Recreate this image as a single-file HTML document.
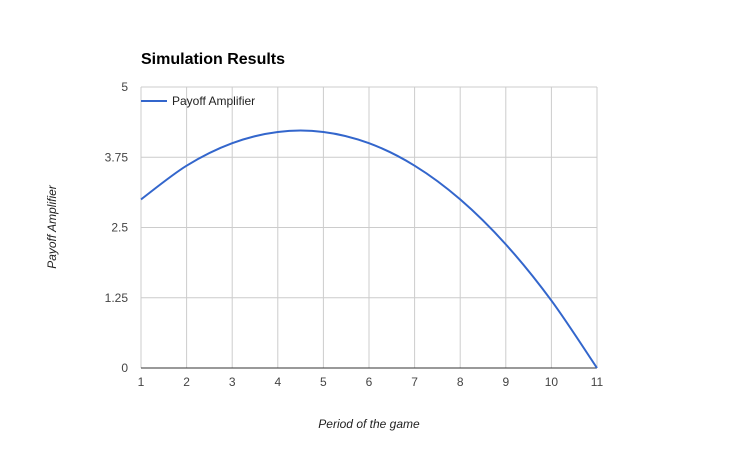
<!DOCTYPE html>
<html><head><meta charset="utf-8"><style>
body{margin:0;background:#fff}
svg{display:block;font-family:"Liberation Sans",Arial,sans-serif}
</style></head><body>
<svg id="chart" width="737" height="456">
<rect width="737" height="456" fill="#fff"/>
<text x="141" y="64" font-size="16" font-weight="bold" fill="#000">Simulation Results</text>
<g id="grid"></g>
<g id="ticks"></g>
<g>
<line x1="141" y1="101" x2="167" y2="101" stroke="#3366cc" stroke-width="2"/>
<text x="172" y="105" font-size="12" fill="#222">Payoff Amplifier</text>
</g>
<text x="369" y="428" font-size="12" font-style="italic" fill="#222" text-anchor="middle">Period of the game</text>
<text transform="translate(56,227) rotate(-90)" font-size="12" font-style="italic" fill="#222" text-anchor="middle">Payoff Amplifier</text>
<path id="series" fill="none" stroke="#3366cc" stroke-width="2"/>
</svg>
<script>
const periods=[1,2,3,4,5,6,7,8,9,10,11];
const payoff=[3.0,3.6,4.0,4.2,4.2,4.0,3.6,3.0,2.2,1.2,0];
const yTicks=[0,1.25,2.5,3.75,5];
const yTickLabels=["0","1.25","2.5","3.75","5"];
const X0=141,X1=597,Y0=368,Y1=87;
function sx(v){return X0+(v-1)/(11-1)*(X1-X0);}
function sy(v){return Y0-(v/5)*(Y0-Y1);}
const NS="http://www.w3.org/2000/svg";
const grid=document.getElementById('grid'),ticks=document.getElementById('ticks');
function mk(tag,attrs,parent){const e=document.createElementNS(NS,tag);for(const k in attrs)e.setAttribute(k,attrs[k]);parent.appendChild(e);return e;}
periods.forEach(p=>{
  const l=mk('line',{x1:sx(p),x2:sx(p),y1:Y1,y2:Y0,stroke:'#ccc','stroke-width':1},grid);
  
  
  const t=mk('text',{x:sx(p),y:Y0+18,'font-size':12,fill:'#444','text-anchor':'middle'},ticks);
  t.textContent=p;
  
  
});
yTicks.forEach((v,i)=>{
  const l=mk('line',{x1:X0,x2:X1,y1:sy(v),y2:sy(v),stroke:v===0?'#333':'#ccc','stroke-width':1},grid);
  
  
  const t=mk('text',{x:X0-13,y:sy(v)+4,'font-size':12,fill:'#444','text-anchor':'end'},ticks);
  t.textContent=yTickLabels[i];
  
  
});
const pts=periods.map((p,i)=>[sx(p),sy(payoff[i])]);
let d='M'+pts[0][0]+','+pts[0][1];
for(let i=0;i<pts.length-1;i++){
  const p0=pts[i-1]||pts[i],p1=pts[i],p2=pts[i+1],p3=pts[i+2]||pts[i+1];
  const c1=[p1[0]+(p2[0]-p0[0])/6,p1[1]+(p2[1]-p0[1])/6];
  const c2=[p2[0]-(p3[0]-p1[0])/6,p2[1]-(p3[1]-p1[1])/6];
  d+=' C'+c1+' '+c2+' '+p2;
}
document.getElementById('series').setAttribute('d',d);
</script>
</body></html>
